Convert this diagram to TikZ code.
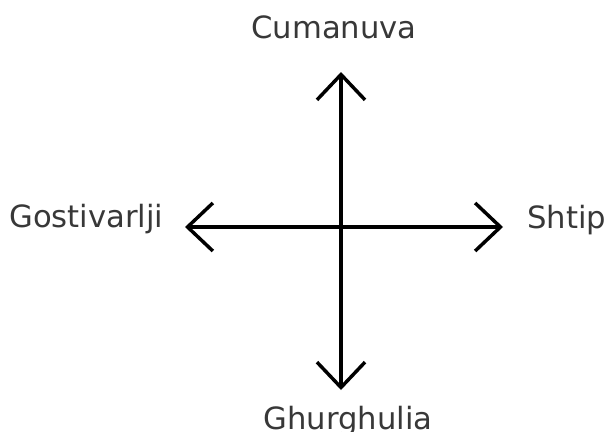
\documentclass[tikz,border=0pt]{standalone}
\usepackage{fontspec}
\setmainfont{DejaVu Sans}
\usetikzlibrary{arrows.meta}
\begin{document}
\begin{tikzpicture}[x=0.75pt,y=-0.75pt,
  lbl/.style={inner sep=0pt,text=black!78,font=\fontsize{23pt}{26pt}\selectfont},
  arr/.style={line width=2.6pt,-{Straight Barb[length=19pt,width=36pt,line width=2.6pt]}}]
\useasboundingbox (0,0) rectangle (608,432);
\coordinate (c) at (341,227);
\coordinate (tn) at (341,72);
\coordinate (ts) at (341,390);
\coordinate (tw) at (185,227);
\coordinate (te) at (503,227);
\node[lbl,anchor=base] (cum) at (334,38) {Cumanuva};
\node[lbl,anchor=base west] (gos) at (9,227) {Gostivarlji};
\node[lbl,anchor=base west] (sht) at (527,228) {Shtip};
\node[lbl,anchor=base] (ghu) at (348,429) {Ghurghulia};
\draw[arr] (c) -- (tn);
\draw[arr] (c) -- (ts);
\draw[arr] (c) -- (tw);
\draw[arr] (c) -- (te);
\end{tikzpicture}
\end{document}
